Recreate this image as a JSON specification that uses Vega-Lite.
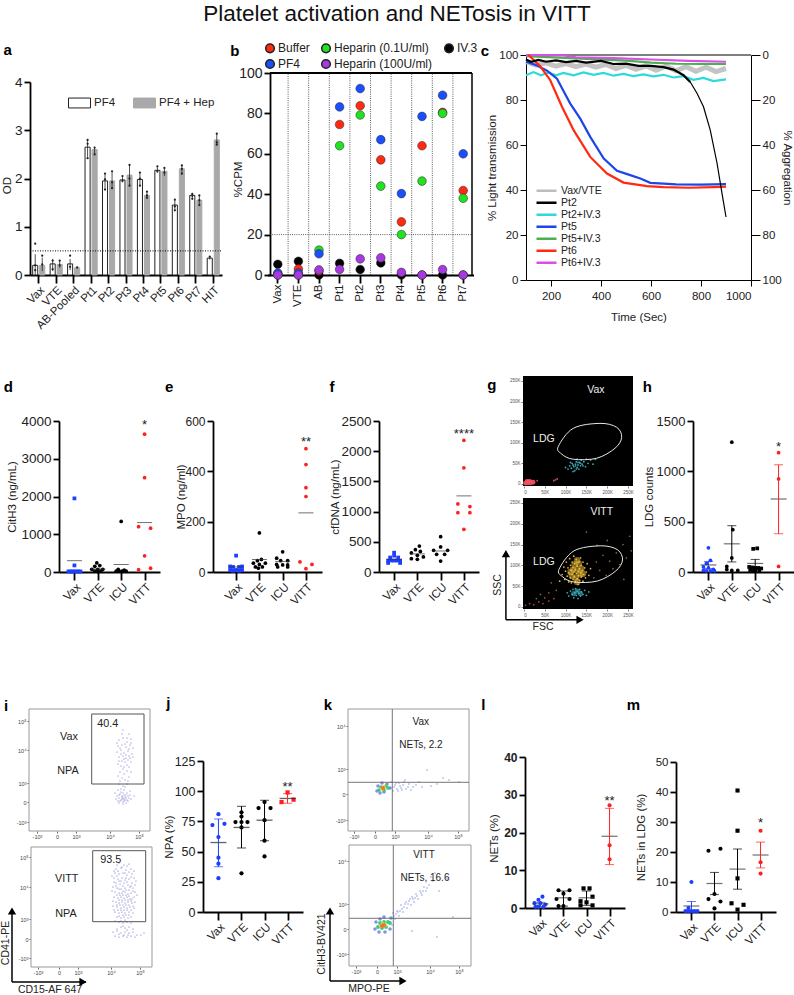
{"$schema":"https://vega.github.io/schema/vega-lite/v6.json","width":794,"height":995,"autosize":"none","padding":0,"background":"white",
"title":{"text":"Platelet activation and NETosis in VITT","anchor":"middle","frame":"group","fontSize":22.5,"fontWeight":"normal","font":"Liberation Sans","color":"#111","dy":29},
"config":{"view":{"stroke":null},"font":"Liberation Sans","numberFormat":"d","axis":{"grid":false,"domainColor":"#000","tickColor":"#000","domainWidth":1.8,"tickWidth":1.8,"labelColor":"#222","titleFontSize":11.5,"titleFontWeight":"normal","titleColor":"#222","titleBaseline":"middle","labelPadding":2,"titlePadding":3},"axisX":{"tickSize":8,"labelFontSize":11.5,"labelPadding":1},"axisY":{"tickSize":6,"labelFontSize":13.5},"legend":{"labelFont":"Liberation Sans","labelColor":"#222"}},
"resolve":{"scale":{"x":"independent","y":"independent","color":"independent","fill":"independent","stroke":"independent","shape":"independent","size":"independent","xOffset":"independent"},"axis":{"x":"independent","y":"independent"},"legend":{"color":"independent","fill":"independent","stroke":"independent","shape":"independent","size":"independent"}},
"layer":[
{"encoding":{"x":{"field":"g","type":"nominal","sort":null,"scale":{"domain":["Vax","VTE","AB-Pooled","Pt1","Pt2","Pt3","Pt4","Pt5","Pt6","Pt7","HIT"],"range":[30,222],"paddingInner":0,"paddingOuter":0},"axis":{"orient":"bottom","offset":-720,"title":null,"labelAngle":-45}},"y":{"field":"v","type":"quantitative","scale":{"domain":[0,4],"range":[275,82]},"axis":{"orient":"left","offset":-30,"title":"OD","titleX":-23,"titleY":185,"values":[0,1,2,3,4]}}},
"layer":[
{"data":{"values":[{"g":"Vax","s":"PF4","v":0.2},{"g":"VTE","s":"PF4","v":0.23},{"g":"AB-Pooled","s":"PF4","v":0.23},{"g":"Pt1","s":"PF4","v":2.65},{"g":"Pt2","s":"PF4","v":1.95},{"g":"Pt3","s":"PF4","v":1.97},{"g":"Pt4","s":"PF4","v":1.98},{"g":"Pt5","s":"PF4","v":2.17},{"g":"Pt6","s":"PF4","v":1.45},{"g":"Pt7","s":"PF4","v":1.65},{"g":"HIT","s":"PF4","v":0.35},{"g":"Vax","s":"PF4 + Hep","v":0.2},{"g":"VTE","s":"PF4 + Hep","v":0.22},{"g":"AB-Pooled","s":"PF4 + Hep","v":0.15},{"g":"Pt1","s":"PF4 + Hep","v":2.6},{"g":"Pt2","s":"PF4 + Hep","v":1.95},{"g":"Pt3","s":"PF4 + Hep","v":2.07},{"g":"Pt4","s":"PF4 + Hep","v":1.65},{"g":"Pt5","s":"PF4 + Hep","v":2.15},{"g":"Pt6","s":"PF4 + Hep","v":2.2},{"g":"Pt7","s":"PF4 + Hep","v":1.55},{"g":"HIT","s":"PF4 + Hep","v":2.8}]},
"mark":{"type":"bar","strokeWidth":1},
"encoding":{"xOffset":{"field":"s","type":"nominal","scale":{"domain":["PF4","PF4 + Hep"],"paddingInner":0.28,"paddingOuter":0.38}},
"fill":{"field":"s","type":"nominal","scale":{"domain":["PF4","PF4 + Hep"],"range":["#ffffff","#a9a9ab"]},"legend":{"title":null,"orient":"none","legendX":68,"legendY":97,"columns":2,"columnPadding":17,"symbolType":"M-1,-0.45H1V0.45H-1Z","symbolSize":484,"labelFontSize":11.5,"labelOffset":3,"symbolStrokeWidth":1,"clipHeight":12}},
"stroke":{"field":"s","type":"nominal","scale":{"domain":["PF4","PF4 + Hep"],"range":["#222222","#a9a9ab"]},"legend":{"title":null,"orient":"none","legendX":68,"legendY":97,"columns":2,"columnPadding":17,"symbolType":"M-1,-0.45H1V0.45H-1Z","symbolSize":484,"labelFontSize":11.5,"labelOffset":3,"symbolStrokeWidth":1,"clipHeight":12}}}},
{"data":{"values":[{"g":"Vax","s":"PF4","v":0,"hi":0.43},{"g":"VTE","s":"PF4","v":0.08,"hi":0.33},{"g":"AB-Pooled","s":"PF4","v":0.1,"hi":0.33},{"g":"Pt1","s":"PF4","v":2.45,"hi":2.8},{"g":"Pt2","s":"PF4","v":1.78,"hi":2.08},{"g":"Pt3","s":"PF4","v":1.92,"hi":2.03},{"g":"Pt4","s":"PF4","v":1.85,"hi":2.1},{"g":"Pt5","s":"PF4","v":2.12,"hi":2.23},{"g":"Pt6","s":"PF4","v":1.33,"hi":1.55},{"g":"Pt7","s":"PF4","v":1.58,"hi":1.7},{"g":"HIT","s":"PF4","v":0.32,"hi":0.38},{"g":"Vax","s":"PF4 + Hep","v":0.08,"hi":0.36},{"g":"VTE","s":"PF4 + Hep","v":0.15,"hi":0.3},{"g":"AB-Pooled","s":"PF4 + Hep","v":0.13,"hi":0.17},{"g":"Pt1","s":"PF4 + Hep","v":2.5,"hi":2.65},{"g":"Pt2","s":"PF4 + Hep","v":1.8,"hi":2.13},{"g":"Pt3","s":"PF4 + Hep","v":1.85,"hi":2.28},{"g":"Pt4","s":"PF4 + Hep","v":1.6,"hi":1.73},{"g":"Pt5","s":"PF4 + Hep","v":2.05,"hi":2.22},{"g":"Pt6","s":"PF4 + Hep","v":2.1,"hi":2.27},{"g":"Pt7","s":"PF4 + Hep","v":1.45,"hi":1.65},{"g":"HIT","s":"PF4 + Hep","v":2.7,"hi":2.93}]},
"mark":{"type":"rule","color":"#222","strokeWidth":0.8},
"encoding":{"xOffset":{"field":"s","type":"nominal","scale":{"domain":["PF4","PF4 + Hep"],"paddingInner":0.28,"paddingOuter":0.38}},"y2":{"field":"hi"}}},
{"data":{"values":[{"g":"Vax","s":"PF4","v":0.65},{"g":"Vax","s":"PF4","v":0.2},{"g":"Vax","s":"PF4","v":0.1},{"g":"Vax","s":"PF4 + Hep","v":0.4},{"g":"Vax","s":"PF4 + Hep","v":0.22},{"g":"VTE","s":"PF4","v":0.3},{"g":"VTE","s":"PF4","v":0.12},{"g":"VTE","s":"PF4 + Hep","v":0.3},{"g":"VTE","s":"PF4 + Hep","v":0.2},{"g":"AB-Pooled","s":"PF4","v":0.4},{"g":"AB-Pooled","s":"PF4","v":0.17},{"g":"AB-Pooled","s":"PF4 + Hep","v":0.16},{"g":"Pt1","s":"PF4","v":2.8},{"g":"Pt1","s":"PF4","v":2.72},{"g":"Pt1","s":"PF4","v":2.42},{"g":"Pt1","s":"PF4 + Hep","v":2.64},{"g":"Pt1","s":"PF4 + Hep","v":2.5},{"g":"Pt2","s":"PF4","v":2.1},{"g":"Pt2","s":"PF4","v":1.98},{"g":"Pt2","s":"PF4","v":1.77},{"g":"Pt2","s":"PF4 + Hep","v":2.15},{"g":"Pt2","s":"PF4 + Hep","v":1.92},{"g":"Pt2","s":"PF4 + Hep","v":1.8},{"g":"Pt3","s":"PF4","v":2.05},{"g":"Pt3","s":"PF4","v":1.95},{"g":"Pt3","s":"PF4 + Hep","v":2.28},{"g":"Pt3","s":"PF4 + Hep","v":2.0},{"g":"Pt3","s":"PF4 + Hep","v":1.85},{"g":"Pt4","s":"PF4","v":2.12},{"g":"Pt4","s":"PF4","v":2.0},{"g":"Pt4","s":"PF4","v":1.85},{"g":"Pt4","s":"PF4 + Hep","v":1.73},{"g":"Pt4","s":"PF4 + Hep","v":1.65},{"g":"Pt4","s":"PF4 + Hep","v":1.6},{"g":"Pt5","s":"PF4","v":2.25},{"g":"Pt5","s":"PF4","v":2.15},{"g":"Pt5","s":"PF4 + Hep","v":2.22},{"g":"Pt5","s":"PF4 + Hep","v":2.12},{"g":"Pt6","s":"PF4","v":1.56},{"g":"Pt6","s":"PF4","v":1.42},{"g":"Pt6","s":"PF4","v":1.34},{"g":"Pt6","s":"PF4 + Hep","v":2.27},{"g":"Pt6","s":"PF4 + Hep","v":2.2},{"g":"Pt6","s":"PF4 + Hep","v":2.1},{"g":"Pt7","s":"PF4","v":1.68},{"g":"Pt7","s":"PF4","v":1.64},{"g":"Pt7","s":"PF4","v":1.58},{"g":"Pt7","s":"PF4 + Hep","v":1.65},{"g":"Pt7","s":"PF4 + Hep","v":1.55},{"g":"Pt7","s":"PF4 + Hep","v":1.45},{"g":"HIT","s":"PF4","v":0.38},{"g":"HIT","s":"PF4 + Hep","v":2.93},{"g":"HIT","s":"PF4 + Hep","v":2.75},{"g":"HIT","s":"PF4 + Hep","v":2.7}]},
"mark":{"type":"point","filled":true,"size":5,"color":"#222","opacity":1},
"encoding":{"xOffset":{"field":"s","type":"nominal","scale":{"domain":["PF4","PF4 + Hep"],"paddingInner":0.28,"paddingOuter":0.38}}}},
{"data":{"values":[{"g":"Vax","v":4.66,"t":"a"}]},"mark":{"type":"text","dx":-31,"fontSize":15,"fontWeight":"bold","color":"#000"},"encoding":{"text":{"field":"t"}}}
]},
{"data":{"values":[{"p":0,"p2":1,"v":0.5}]},"mark":{"type":"rule","color":"#000","strokeDash":[1,1.5],"strokeWidth":1},"encoding":{"x":{"field":"p","type":"quantitative","scale":{"domain":[0,1],"range":[30,222]},"axis":null},"x2":{"field":"p2"},"y":{"field":"v","type":"quantitative","scale":{"domain":[0,4],"range":[275,82]},"axis":null}}},

{"encoding":{"x":{"field":"p","type":"quantitative","scale":{"domain":[0,1],"range":[270,472]},"axis":null},"y":{"field":"v","type":"quantitative","scale":{"domain":[0,100],"range":[275,73]},"axis":null}},
"layer":[
{"data":{"values":[{"p":0,"p2":1,"v":100}]},"mark":{"type":"rule","color":"#000","strokeWidth":1.8},"encoding":{"x2":{"field":"p2"}}},
{"data":{"values":[{"p":1,"v":0,"v2":100}]},"mark":{"type":"rule","color":"#000","strokeWidth":1.5},"encoding":{"y2":{"field":"v2"}}},
{"data":{"values":[{"p":0,"p2":1,"v":20}]},"mark":{"type":"rule","color":"#333","strokeDash":[1,1.2],"strokeWidth":0.8},"encoding":{"x2":{"field":"p2"}}}
]},
{"encoding":{"x":{"field":"g","type":"nominal","scale":{"domain":["Vax","VTE","AB","Pt1","Pt2","Pt3","Pt4","Pt5","Pt6","Pt7"],"range":[267.5,473.5],"paddingInner":0,"paddingOuter":0},"axis":{"orient":"bottom","offset":-720,"title":null,"labelAngle":-90}},"y":{"field":"v","type":"quantitative","scale":{"domain":[0,100],"range":[275,73]},"axis":{"orient":"left","offset":-270,"title":"%CPM","titleX":-32,"titleY":179,"labelFontSize":14,"values":[0,20,40,60,80,100]}}},
"layer":[
{"data":{"values":[{"g":"Vax","v":0,"v2":100},{"g":"VTE","v":0,"v2":100},{"g":"AB","v":0,"v2":100},{"g":"Pt1","v":0,"v2":100},{"g":"Pt2","v":0,"v2":100},{"g":"Pt3","v":0,"v2":100},{"g":"Pt4","v":0,"v2":100},{"g":"Pt5","v":0,"v2":100},{"g":"Pt6","v":0,"v2":100}]},"mark":{"type":"rule","color":"#333","strokeDash":[1,1.2],"strokeWidth":0.8},"encoding":{"x":{"field":"g","type":"nominal","bandPosition":1,"scale":{"domain":["Vax","VTE","AB","Pt1","Pt2","Pt3","Pt4","Pt5","Pt6","Pt7"],"range":[267.5,473.5],"paddingInner":0,"paddingOuter":0},"axis":{"orient":"bottom","offset":-720,"title":null,"labelAngle":-90}},"y2":{"field":"v2"}}},
{"data":{"values":[{"g":"Vax","s":"IV.3","v":5.3},{"g":"VTE","s":"IV.3","v":6.8},{"g":"AB","s":"IV.3","v":0},{"g":"Pt1","s":"IV.3","v":5.8},{"g":"Pt2","s":"IV.3","v":2.7},{"g":"Pt3","s":"IV.3","v":6},{"g":"Pt4","s":"IV.3","v":0},{"g":"Pt5","s":"IV.3","v":0},{"g":"Pt6","s":"IV.3","v":0},{"g":"Pt7","s":"IV.3","v":0},
{"g":"Vax","s":"Buffer","v":0.5},{"g":"VTE","s":"Buffer","v":3},{"g":"AB","s":"Buffer","v":2},{"g":"Pt1","s":"Buffer","v":74.5},{"g":"Pt2","s":"Buffer","v":83.8},{"g":"Pt3","s":"Buffer","v":57},{"g":"Pt4","s":"Buffer","v":26.3},{"g":"Pt5","s":"Buffer","v":64},{"g":"Pt6","s":"Buffer","v":80.5},{"g":"Pt7","s":"Buffer","v":41.8},
{"g":"Vax","s":"Heparin (0.1U/ml)","v":0},{"g":"VTE","s":"Heparin (0.1U/ml)","v":0},{"g":"AB","s":"Heparin (0.1U/ml)","v":12.3},{"g":"Pt1","s":"Heparin (0.1U/ml)","v":64},{"g":"Pt2","s":"Heparin (0.1U/ml)","v":79.2},{"g":"Pt3","s":"Heparin (0.1U/ml)","v":44},{"g":"Pt4","s":"Heparin (0.1U/ml)","v":20},{"g":"Pt5","s":"Heparin (0.1U/ml)","v":46.5},{"g":"Pt6","s":"Heparin (0.1U/ml)","v":80},{"g":"Pt7","s":"Heparin (0.1U/ml)","v":38},
{"g":"Vax","s":"PF4","v":1},{"g":"VTE","s":"PF4","v":1},{"g":"AB","s":"PF4","v":10.5},{"g":"Pt1","s":"PF4","v":83.2},{"g":"Pt2","s":"PF4","v":92.3},{"g":"Pt3","s":"PF4","v":67},{"g":"Pt4","s":"PF4","v":40.3},{"g":"Pt5","s":"PF4","v":78.5},{"g":"Pt6","s":"PF4","v":89},{"g":"Pt7","s":"PF4","v":60},
{"g":"Vax","s":"Heparin (100U/ml)","v":0},{"g":"VTE","s":"Heparin (100U/ml)","v":0},{"g":"AB","s":"Heparin (100U/ml)","v":2.5},{"g":"Pt1","s":"Heparin (100U/ml)","v":2.8},{"g":"Pt2","s":"Heparin (100U/ml)","v":8},{"g":"Pt3","s":"Heparin (100U/ml)","v":8.5},{"g":"Pt4","s":"Heparin (100U/ml)","v":1.3},{"g":"Pt5","s":"Heparin (100U/ml)","v":0},{"g":"Pt6","s":"Heparin (100U/ml)","v":2.7},{"g":"Pt7","s":"Heparin (100U/ml)","v":0}]},
"mark":{"type":"point","filled":true,"size":75,"stroke":"#222","strokeWidth":0.5,"opacity":1},
"encoding":{"color":{"field":"s","type":"nominal","scale":{"domain":["Buffer","PF4","Heparin (0.1U/ml)","Heparin (100U/ml)","IV.3"],"range":["#ff2a12","#1a4fff","#22e022","#a63ae0","#000000"]},"legend":{"title":null,"orient":"none","legendX":264,"legendY":42,"columns":3,"columnPadding":8,"rowPadding":0,"symbolSize":75,"symbolType":"circle","symbolStrokeColor":"#222","labelFontSize":12,"labelOffset":2}}}},
{"data":{"values":[{"g":"Vax","v":111,"t":"b"}]},"mark":{"type":"text","dx":-43,"fontSize":15,"fontWeight":"bold","color":"#000"},"encoding":{"text":{"field":"t"}}}
]},

{"data":{"values":[{"a":0}]},"mark":{"type":"point","opacity":0},"encoding":{"x":{"field":"a","type":"quantitative","scale":{"domain":[0,1000],"range":[526,751]},"axis":null},"y":{"field":"a","type":"quantitative","scale":{"domain":[100,0],"range":[280,55]},"axis":{"orient":"right","offset":-43,"title":"% Aggregation","titleX":35,"values":[0,20,40,60,80,100],"domainWidth":1,"tickWidth":1,"tickSize":9,"labelFontSize":11.5}}}},
{"encoding":{"x":{"field":"t","type":"quantitative","scale":{"domain":[100,1000],"range":[526,751]},"axis":{"orient":"bottom","offset":-715,"title":"Time (Sec)","titleY":37,"values":[200,400,600,800,1000],"domainWidth":1,"tickWidth":1,"tickSize":6,"labelPadding":4}},"y":{"field":"v","type":"quantitative","scale":{"domain":[0,100],"range":[280,55]},"axis":{"orient":"left","offset":-526,"title":"% Light transmission","titleX":-34,"values":[0,20,40,60,80,100],"domainWidth":1,"tickWidth":1,"tickSize":6,"labelFontSize":11.5}}},
"layer":[
{"data":{"values":[{"t":100,"v":100},{"t":1000,"v":100}]},"mark":{"type":"line","color":"#000","strokeWidth":1}},
{"data":{"values":[{"t":100,"v":97},{"t":140,"v":95.5},{"t":180,"v":96.5},{"t":220,"v":95},{"t":260,"v":96.2},{"t":300,"v":94.8},{"t":340,"v":96},{"t":380,"v":94.6},{"t":420,"v":95.8},{"t":460,"v":94},{"t":500,"v":95.4},{"t":540,"v":93.6},{"t":580,"v":95.2},{"t":620,"v":93.2},{"t":660,"v":95},{"t":700,"v":93},{"t":740,"v":94.8},{"t":780,"v":92.8},{"t":820,"v":94.6},{"t":860,"v":92.6},{"t":900,"v":94}]},"mark":{"type":"line","color":"#c4c4c4","strokeWidth":5}},
{"data":{"values":[{"s":"Pt5+IV.3","t":100,"v":99.5},{"s":"Pt5+IV.3","t":300,"v":98.5},{"s":"Pt5+IV.3","t":500,"v":97.5},{"s":"Pt5+IV.3","t":600,"v":96.6},{"s":"Pt5+IV.3","t":700,"v":96.1},{"s":"Pt5+IV.3","t":800,"v":96},{"s":"Pt5+IV.3","t":900,"v":96},
{"s":"Pt2+IV.3","t":100,"v":91},{"s":"Pt2+IV.3","t":130,"v":92.4},{"s":"Pt2+IV.3","t":160,"v":91},{"s":"Pt2+IV.3","t":190,"v":92.2},{"s":"Pt2+IV.3","t":220,"v":91},{"s":"Pt2+IV.3","t":250,"v":92},{"s":"Pt2+IV.3","t":290,"v":91},{"s":"Pt2+IV.3","t":330,"v":92.3},{"s":"Pt2+IV.3","t":370,"v":91.2},{"s":"Pt2+IV.3","t":410,"v":92},{"s":"Pt2+IV.3","t":450,"v":90.8},{"s":"Pt2+IV.3","t":490,"v":91.6},{"s":"Pt2+IV.3","t":530,"v":90.6},{"s":"Pt2+IV.3","t":570,"v":91.4},{"s":"Pt2+IV.3","t":610,"v":90.5},{"s":"Pt2+IV.3","t":650,"v":91.2},{"s":"Pt2+IV.3","t":690,"v":90},{"s":"Pt2+IV.3","t":730,"v":90.6},{"s":"Pt2+IV.3","t":770,"v":89},{"s":"Pt2+IV.3","t":810,"v":89.8},{"s":"Pt2+IV.3","t":850,"v":88.4},{"s":"Pt2+IV.3","t":900,"v":89.2},
{"s":"Pt6+IV.3","t":100,"v":100},{"s":"Pt6+IV.3","t":250,"v":99.8},{"s":"Pt6+IV.3","t":300,"v":99},{"s":"Pt6+IV.3","t":450,"v":98.6},{"s":"Pt6+IV.3","t":600,"v":98},{"s":"Pt6+IV.3","t":750,"v":97.4},{"s":"Pt6+IV.3","t":900,"v":97},
{"s":"Pt5","t":100,"v":97},{"s":"Pt5","t":140,"v":95.5},{"s":"Pt5","t":184,"v":93},{"s":"Pt5","t":224,"v":89.5},{"s":"Pt5","t":250,"v":84},{"s":"Pt5","t":277,"v":78.4},{"s":"Pt5","t":317,"v":71.7},{"s":"Pt5","t":357,"v":63.6},{"s":"Pt5","t":411,"v":54},{"s":"Pt5","t":464,"v":48.5},{"s":"Pt5","t":517,"v":46.6},{"s":"Pt5","t":560,"v":45},{"s":"Pt5","t":597,"v":43.2},{"s":"Pt5","t":650,"v":42.8},{"s":"Pt5","t":700,"v":42.5},{"s":"Pt5","t":800,"v":42.4},{"s":"Pt5","t":900,"v":42.6},
{"s":"Pt6","t":110,"v":100},{"s":"Pt6","t":157,"v":95},{"s":"Pt6","t":197,"v":88.8},{"s":"Pt6","t":244,"v":77},{"s":"Pt6","t":291,"v":66.5},{"s":"Pt6","t":357,"v":54.7},{"s":"Pt6","t":424,"v":47.3},{"s":"Pt6","t":490,"v":43.3},{"s":"Pt6","t":584,"v":41.7},{"s":"Pt6","t":650,"v":41.3},{"s":"Pt6","t":750,"v":41},{"s":"Pt6","t":850,"v":41.3},{"s":"Pt6","t":900,"v":41.5},
{"s":"Pt2","t":100,"v":98},{"s":"Pt2","t":120,"v":97},{"s":"Pt2","t":150,"v":97.8},{"s":"Pt2","t":180,"v":97},{"s":"Pt2","t":220,"v":97.6},{"s":"Pt2","t":260,"v":96.8},{"s":"Pt2","t":300,"v":97.4},{"s":"Pt2","t":340,"v":96.6},{"s":"Pt2","t":400,"v":97.4},{"s":"Pt2","t":450,"v":96},{"s":"Pt2","t":500,"v":96.2},{"s":"Pt2","t":550,"v":95.2},{"s":"Pt2","t":600,"v":95.2},{"s":"Pt2","t":650,"v":94.6},{"s":"Pt2","t":690,"v":93.5},{"s":"Pt2","t":730,"v":91},{"s":"Pt2","t":757,"v":88}]},
"mark":{"type":"line","strokeWidth":2.2},
"encoding":{"color":{"field":"s","type":"nominal","scale":{"domain":["Vax/VTE","Pt2","Pt2+IV.3","Pt5","Pt5+IV.3","Pt6","Pt6+IV.3"],"range":["#bdbdbd","#000000","#2fd9d9","#1d45e8","#4caf50","#ff2a10","#d94fe8"]},"legend":{"title":null,"orient":"none","legendX":535,"legendY":185,"symbolType":"stroke","symbolSize":400,"symbolStrokeWidth":2.5,"labelFontSize":10.5,"labelOffset":3,"clipHeight":11.5,"rowPadding":0}}}},
{"data":{"values":[{"t":757,"v":88},{"t":784,"v":83},{"t":810,"v":77},{"t":837,"v":66.6},{"t":864,"v":52},{"t":884,"v":38.5},{"t":900,"v":28}]},"mark":{"type":"line","color":"#000","strokeWidth":1.2}},
{"data":{"values":[{"t":-64,"v":101.8,"l":"c"}]},"mark":{"type":"text","fontSize":15,"fontWeight":"bold","color":"#000"},"encoding":{"text":{"field":"l"}}}
]},

{"encoding":{"x":{"field":"group","type":"nominal","scale":{"type":"point","domain":["Vax","VTE","ICU","VITT"],"range":[59,160],"padding":0.66},"axis":{"orient":"bottom","offset":-423,"title":null,"labelAngle":-45}},"y":{"field":"v","type":"quantitative","scale":{"domain":[0,4000],"range":[572,421]},"axis":{"orient":"left","offset":-59,"title":"CitH3 (ng/mL)","titleX":-47,"labelFontSize":13.5,"values":[0,1000,2000,3000,4000]}},"color":{"field":"group","type":"nominal","scale":{"domain":["Vax","VTE","ICU","VITT"],"range":["#1f3fff","#000000","#000000","#ff2020"]},"legend":null}},
"layer":[
{"data":{"values":[{"group":"Vax","v":1950,"o":0},{"group":"Vax","v":175,"o":0},{"group":"Vax","v":15,"o":-6},{"group":"Vax","v":15,"o":-4},{"group":"Vax","v":15,"o":-2},{"group":"Vax","v":15,"o":0},{"group":"Vax","v":15,"o":2},{"group":"Vax","v":15,"o":4},{"group":"Vax","v":15,"o":6},{"group":"VTE","v":240,"o":-1},{"group":"VTE","v":170,"o":2},{"group":"VTE","v":150,"o":-3},{"group":"VTE","v":70,"o":-6},{"group":"VTE","v":70,"o":0},{"group":"VTE","v":70,"o":5},{"group":"VTE","v":20,"o":-3},{"group":"VTE","v":20,"o":3},{"group":"VTE","v":10,"o":0},{"group":"ICU","v":1340,"o":0},{"group":"ICU","v":70,"o":-3},{"group":"ICU","v":50,"o":3},{"group":"ICU","v":20,"o":-5},{"group":"ICU","v":20,"o":-2},{"group":"ICU","v":20,"o":1},{"group":"ICU","v":20,"o":5},{"group":"VITT","v":3650,"o":0},{"group":"VITT","v":2500,"o":0},{"group":"VITT","v":1200,"o":-6},{"group":"VITT","v":1160,"o":6},{"group":"VITT","v":430,"o":0},{"group":"VITT","v":60,"o":-6},{"group":"VITT","v":100,"o":6}]},"mark":{"type":"point","filled":true,"size":14,"opacity":1},"encoding":{"xOffset":{"field":"o","type":"quantitative","scale":{"domain":[-10,10],"range":[-10,10]}},"shape":{"field":"group","type":"nominal","scale":{"domain":["Vax","VTE","ICU","VITT"],"range":["square","circle","circle","circle"]},"legend":null}}},
{"data":{"values":[{"group":"Vax","v":300},{"group":"VTE","v":80},{"group":"ICU","v":200},{"group":"VITT","v":1310}]},"mark":{"type":"tick","orient":"horizontal","size":15,"thickness":1},"encoding":{"color":{"value":"#333"}}},
{"data":{"values":[{"group":"VITT","v":3950,"l":"*"}]},"mark":{"type":"text","fontSize":13,"baseline":"middle","dy":2},"encoding":{"text":{"field":"l"},"color":{"value":"#222"}}},
{"data":{"values":[{"group":"Vax","v":4900,"l":"d"}]},"mark":{"type":"text","dx":-66,"fontSize":15,"fontWeight":"bold"},"encoding":{"text":{"field":"l"},"color":{"value":"#000"}}}
]},

{"encoding":{"x":{"field":"group","type":"nominal","scale":{"type":"point","domain":["Vax","VTE","ICU","VITT"],"range":[213,322],"padding":0.84,"align":0.59},"axis":{"orient":"bottom","offset":-423,"title":null,"labelAngle":-45}},"y":{"field":"v","type":"quantitative","scale":{"domain":[0,600],"range":[572,421]},"axis":{"orient":"left","offset":-213,"title":"MPO (ng/ml)","titleX":-32,"labelFontSize":12,"values":[0,200,400,600]}},"color":{"field":"group","type":"nominal","scale":{"domain":["Vax","VTE","ICU","VITT"],"range":["#1f3fff","#000000","#000000","#ff2020"]},"legend":null}},
"layer":[
{"data":{"values":[{"group":"Vax","v":65,"o":0},{"group":"Vax","v":22,"o":-6},{"group":"Vax","v":20,"o":-3},{"group":"Vax","v":20,"o":3},{"group":"Vax","v":22,"o":6},{"group":"Vax","v":8,"o":-6},{"group":"Vax","v":8,"o":0},{"group":"Vax","v":8,"o":6},{"group":"Vax","v":5,"o":-3},{"group":"Vax","v":5,"o":3},{"group":"VTE","v":155,"o":0},{"group":"VTE","v":50,"o":2},{"group":"VTE","v":45,"o":-2},{"group":"VTE","v":35,"o":-6},{"group":"VTE","v":30,"o":0},{"group":"VTE","v":35,"o":6},{"group":"VTE","v":20,"o":-4},{"group":"VTE","v":20,"o":3},{"group":"VTE","v":15,"o":-1},{"group":"ICU","v":80,"o":0},{"group":"ICU","v":55,"o":-6},{"group":"ICU","v":45,"o":-2},{"group":"ICU","v":45,"o":5},{"group":"ICU","v":30,"o":-6},{"group":"ICU","v":28,"o":0},{"group":"ICU","v":28,"o":5},{"group":"ICU","v":20,"o":-5},{"group":"ICU","v":20,"o":5},{"group":"VITT","v":490,"o":0},{"group":"VITT","v":427,"o":0},{"group":"VITT","v":335,"o":0},{"group":"VITT","v":300,"o":0},{"group":"VITT","v":40,"o":-6},{"group":"VITT","v":30,"o":6},{"group":"VITT","v":13,"o":0}]},"mark":{"type":"point","filled":true,"size":14,"opacity":1},"encoding":{"xOffset":{"field":"o","type":"quantitative","scale":{"domain":[-10,10],"range":[-10,10]}},"shape":{"field":"group","type":"nominal","scale":{"domain":["Vax","VTE","ICU","VITT"],"range":["square","circle","circle","circle"]},"legend":null}}},
{"data":{"values":[{"group":"Vax","v":20},{"group":"VTE","v":50},{"group":"ICU","v":42},{"group":"VITT","v":235}]},"mark":{"type":"tick","orient":"horizontal","size":15,"thickness":1},"encoding":{"color":{"value":"#333"}}},
{"data":{"values":[{"group":"VITT","v":525,"l":"**"}]},"mark":{"type":"text","fontSize":13,"baseline":"middle","dy":2},"encoding":{"text":{"field":"l"},"color":{"value":"#222"}}},
{"data":{"values":[{"group":"Vax","v":735,"l":"e"}]},"mark":{"type":"text","dx":-67,"fontSize":15,"fontWeight":"bold"},"encoding":{"text":{"field":"l"},"color":{"value":"#000"}}}
]},

{"encoding":{"x":{"field":"group","type":"nominal","scale":{"type":"point","domain":["Vax","VTE","ICU","VITT"],"range":[379,479],"padding":0.65},"axis":{"orient":"bottom","offset":-423,"title":null,"labelAngle":-45}},"y":{"field":"v","type":"quantitative","scale":{"domain":[0,2500],"range":[572,421]},"axis":{"orient":"left","offset":-379,"title":"cfDNA (ng/mL)","titleX":-44,"labelFontSize":13.5,"values":[0,500,1000,1500,2000,2500]}},"color":{"field":"group","type":"nominal","scale":{"domain":["Vax","VTE","ICU","VITT"],"range":["#1f3fff","#000000","#000000","#ff2020"]},"legend":null}},
"layer":[
{"data":{"values":[{"group":"Vax","v":320,"o":0},{"group":"Vax","v":270,"o":0},{"group":"Vax","v":240,"o":-4},{"group":"Vax","v":240,"o":4},{"group":"Vax","v":190,"o":-6},{"group":"Vax","v":190,"o":-3},{"group":"Vax","v":190,"o":0},{"group":"Vax","v":190,"o":3},{"group":"Vax","v":190,"o":6},{"group":"Vax","v":150,"o":-6},{"group":"Vax","v":150,"o":6},{"group":"VTE","v":430,"o":2},{"group":"VTE","v":370,"o":-2},{"group":"VTE","v":340,"o":3},{"group":"VTE","v":315,"o":-6},{"group":"VTE","v":276,"o":0},{"group":"VTE","v":250,"o":6},{"group":"VTE","v":220,"o":-6},{"group":"VTE","v":210,"o":0},{"group":"ICU","v":585,"o":0},{"group":"ICU","v":415,"o":0},{"group":"ICU","v":360,"o":-7},{"group":"ICU","v":360,"o":7},{"group":"ICU","v":293,"o":-4},{"group":"ICU","v":293,"o":4},{"group":"ICU","v":182,"o":0},{"group":"VITT","v":2180,"o":0},{"group":"VITT","v":1724,"o":0},{"group":"VITT","v":1127,"o":-6},{"group":"VITT","v":1083,"o":6},{"group":"VITT","v":983,"o":-6},{"group":"VITT","v":983,"o":6},{"group":"VITT","v":707,"o":0}]},"mark":{"type":"point","filled":true,"size":14,"opacity":1},"encoding":{"xOffset":{"field":"o","type":"quantitative","scale":{"domain":[-10,10],"range":[-10,10]}},"shape":{"field":"group","type":"nominal","scale":{"domain":["Vax","VTE","ICU","VITT"],"range":["square","circle","circle","circle"]},"legend":null}}},
{"data":{"values":[{"group":"Vax","v":205},{"group":"VTE","v":300},{"group":"ICU","v":348},{"group":"VITT","v":1260}]},"mark":{"type":"tick","orient":"horizontal","size":15,"thickness":1},"encoding":{"color":{"value":"#333"}}},
{"data":{"values":[{"group":"VITT","v":2310,"l":"****"}]},"mark":{"type":"text","fontSize":13,"baseline":"middle","dy":2},"encoding":{"text":{"field":"l"},"color":{"value":"#222"}}},
{"data":{"values":[{"group":"Vax","v":3063,"l":"f"}]},"mark":{"type":"text","dx":-62,"fontSize":15,"fontWeight":"bold"},"encoding":{"text":{"field":"l"},"color":{"value":"#000"}}}
]},

{"encoding":{"x":{"field":"group","type":"nominal","scale":{"type":"point","domain":["Vax","VTE","ICU","VITT"],"range":[693,794],"padding":0.66},"axis":{"orient":"bottom","offset":-423,"title":null,"labelAngle":-45}},"y":{"field":"v","type":"quantitative","scale":{"domain":[0,1500],"range":[572,421]},"axis":{"orient":"left","offset":-693,"title":"LDG counts","titleX":-44,"labelFontSize":13,"values":[0,500,1000,1500]}},"color":{"field":"group","type":"nominal","scale":{"domain":["Vax","VTE","ICU","VITT"],"range":["#1f3fff","#000000","#000000","#ff2020"]},"legend":null}},
"layer":[
{"data":{"values":[{"group":"Vax","v":240,"o":0},{"group":"Vax","v":115,"o":2},{"group":"Vax","v":85,"o":-2},{"group":"Vax","v":50,"o":-5},{"group":"Vax","v":40,"o":0},{"group":"Vax","v":25,"o":5},{"group":"Vax","v":15,"o":-5},{"group":"Vax","v":10,"o":-2},{"group":"Vax","v":10,"o":2},{"group":"Vax","v":10,"o":6},{"group":"VTE","v":1290,"o":0},{"group":"VTE","v":420,"o":1},{"group":"VTE","v":140,"o":0},{"group":"VTE","v":55,"o":-5},{"group":"VTE","v":25,"o":-5},{"group":"VTE","v":15,"o":6},{"group":"VTE","v":15,"o":0},{"group":"ICU","v":230,"o":-2},{"group":"ICU","v":235,"o":2},{"group":"ICU","v":50,"o":-6},{"group":"ICU","v":45,"o":-3},{"group":"ICU","v":40,"o":0},{"group":"ICU","v":40,"o":3},{"group":"ICU","v":35,"o":6},{"group":"ICU","v":20,"o":-5},{"group":"ICU","v":15,"o":0},{"group":"ICU","v":15,"o":4},{"group":"ICU","v":10,"o":-2},{"group":"VITT","v":1185,"o":0},{"group":"VITT","v":925,"o":0},{"group":"VITT","v":55,"o":0}]},"mark":{"type":"point","filled":true,"size":14,"opacity":1},"encoding":{"xOffset":{"field":"o","type":"quantitative","scale":{"domain":[-10,10],"range":[-10,10]}},"shape":{"field":"group","type":"nominal","scale":{"domain":["Vax","VTE","ICU","VITT"],"range":["circle","circle","square","circle"]},"legend":null}}},
{"data":{"values":[{"group":"Vax","v":70},{"group":"VTE","v":280},{"group":"ICU","v":85},{"group":"VITT","v":725}]},"mark":{"type":"tick","orient":"horizontal","size":16,"thickness":1.2},"encoding":{"color":{"value":"#333"}}},
{"data":{"values":[{"group":"Vax","v":35,"hi":105},{"group":"VTE","v":100,"hi":460},{"group":"ICU","v":40,"hi":125},{"group":"VITT","v":380,"hi":1065}]},"mark":{"type":"errorbar","ticks":{"size":9}},"encoding":{"y2":{"field":"hi"}}},
{"data":{"values":[{"group":"VITT","v":1265,"l":"*"}]},"mark":{"type":"text","fontSize":13,"baseline":"middle","dy":2},"encoding":{"text":{"field":"l"},"color":{"value":"#222"}}},
{"data":{"values":[{"group":"Vax","v":1838,"l":"h"}]},"mark":{"type":"text","dx":-61,"fontSize":15,"fontWeight":"bold"},"encoding":{"text":{"field":"l"},"color":{"value":"#000"}}}
]},

{"encoding":{"x":{"field":"u","type":"quantitative","scale":{"domain":[-2,262],"range":[523,633]},"axis":{"orient":"bottom","offset":-509,"title":null,"values":[0,50,100,150,200,250],"labelExpr":"datum.value==0?'0':datum.value+'K'","labelFontSize":4.5,"labelColor":"#555","tickSize":2,"tickWidth":0.5,"domain":false,"labelPadding":1}},"y":{"field":"w","type":"quantitative","scale":{"domain":[-5,262],"range":[486,376]},"axis":{"orient":"left","offset":-523,"title":null,"values":[0,50,100,150,200,250],"labelExpr":"datum.value==0?'0':datum.value+'K'","labelFontSize":4.5,"labelColor":"#555","tickSize":2,"tickWidth":0.5,"domain":false,"labelPadding":1}}},
"layer":[
{"data":{"values":[{"u":-2,"u2":262,"w":-5,"w2":262}]},"mark":{"type":"rect","color":"#000"},"encoding":{"x2":{"field":"u2"},"y2":{"field":"w2"}}},
{"data":{"values":[{"u":4,"w":2},{"u":10,"w":3},{"u":16,"w":3},{"u":22,"w":4},{"u":8,"w":6},{"u":14,"w":6}]},"mark":{"type":"point","filled":true,"size":24,"color":"#f05060","opacity":0.95}},
{"data":{"values":[{"u":32,"w":8,"c":"r"},{"u":76,"w":10,"c":"r"},{"u":80,"w":12,"c":"r"},{"u":72,"w":8,"c":"r"},{"u":100,"w":40,"c":"c"},{"u":106,"w":36,"c":"c"},{"u":110,"w":44,"c":"c"},{"u":114,"w":38,"c":"c"},{"u":116,"w":50,"c":"c"},{"u":120,"w":42,"c":"c"},{"u":122,"w":32,"c":"c"},{"u":124,"w":48,"c":"c"},{"u":126,"w":54,"c":"c"},{"u":128,"w":40,"c":"c"},{"u":130,"w":46,"c":"c"},{"u":132,"w":36,"c":"c"},{"u":134,"w":52,"c":"c"},{"u":136,"w":44,"c":"c"},{"u":138,"w":58,"c":"c"},{"u":140,"w":48,"c":"c"},{"u":144,"w":54,"c":"c"},{"u":148,"w":42,"c":"c"},{"u":150,"w":60,"c":"c"},{"u":154,"w":50,"c":"c"},{"u":160,"w":58,"c":"c"},{"u":166,"w":48,"c":"c"},{"u":172,"w":60,"c":"c"},{"u":118,"w":30,"c":"c"},{"u":128,"w":60,"c":"c"},{"u":112,"w":52,"c":"c"},{"u":124,"w":44,"c":"c"},{"u":130,"w":52,"c":"c"},{"u":118,"w":46,"c":"c"},{"u":136,"w":50,"c":"c"},{"u":126,"w":36,"c":"c"},{"u":142,"w":44,"c":"c"}]},"mark":{"type":"point","filled":true,"size":3.5,"opacity":0.9},"encoding":{"color":{"field":"c","type":"nominal","scale":{"domain":["r","c"],"range":["#f05060","#3fb4c4"]},"legend":null}}},
{"data":{"values":[{"u":82.5,"w":90.6,"o":1},{"u":118.6,"w":135,"o":2},{"u":182.7,"w":147,"o":3},{"u":222.8,"w":137.5,"o":4},{"u":234.8,"w":113,"o":5},{"u":218.8,"w":86.6,"o":6},{"u":174.7,"w":62.3,"o":7},{"u":118.6,"w":59.9,"o":8},{"u":90.5,"w":72.8,"o":9}]},"mark":{"type":"line","color":"#e8e8e8","strokeWidth":1,"interpolate":"cardinal-closed"},"encoding":{"order":{"field":"o"}}},
{"data":{"values":[{"u":48,"w":109,"l":"LDG"},{"u":173,"w":228,"l":"Vax"}]},"mark":{"type":"text","fontSize":10.5,"color":"#eee"},"encoding":{"text":{"field":"l"}}},
{"data":{"values":[{"u":-77,"w":240,"l":"g"}]},"mark":{"type":"text","fontSize":15,"fontWeight":"bold","color":"#000"},"encoding":{"text":{"field":"l"}}}
]},

{"encoding":{"x":{"field":"u","type":"quantitative","scale":{"domain":[-2,262],"range":[523,633]},"axis":{"orient":"bottom","offset":-386,"title":null,"values":[0,50,100,150,200,250],"labelExpr":"datum.value==0?'0':datum.value+'K'","labelFontSize":4.5,"labelColor":"#555","tickSize":2,"tickWidth":0.5,"domain":false,"labelPadding":1}},"y":{"field":"w","type":"quantitative","scale":{"domain":[-5,262],"range":[609,498]},"axis":{"orient":"left","offset":-523,"title":null,"values":[0,50,100,150,200,250],"labelExpr":"datum.value==0?'0':datum.value+'K'","labelFontSize":4.5,"labelColor":"#555","tickSize":2,"tickWidth":0.5,"domain":false,"labelPadding":1}}},
"layer":[
{"data":{"values":[{"u":-2,"u2":262,"w":-5,"w2":262}]},"mark":{"type":"rect","color":"#000"},"encoding":{"x2":{"field":"u2"},"y2":{"field":"w2"}}},
{"data":{"values":[{"u":115,"w":75},{"u":125,"w":70},{"u":135,"w":78},{"u":118,"w":90},{"u":128,"w":88},{"u":138,"w":92},{"u":122,"w":102},{"u":132,"w":104},{"u":128,"w":60},{"u":112,"w":84},{"u":142,"w":80},{"u":128,"w":112}]},"mark":{"type":"point","filled":true,"size":42,"color":"#e8b838","opacity":0.55}},
{"data":{"values":[{"u":120,"w":32},{"u":128,"w":38},{"u":136,"w":32}]},"mark":{"type":"point","filled":true,"size":26,"color":"#3fb4c4","opacity":0.6}},
{"data":{"values":[{"u":4,"w":4,"c":"r"},{"u":14,"w":8,"c":"r"},{"u":24,"w":5,"c":"r"},{"u":36,"w":12,"c":"r"},{"u":46,"w":8,"c":"r"},{"u":60,"w":14,"c":"r"},{"u":50,"w":22,"c":"r"},{"u":72,"w":20,"c":"r"},{"u":30,"w":20,"c":"o"},{"u":60,"w":34,"c":"o"},{"u":78,"w":40,"c":"o"},{"u":66,"w":58,"c":"o"},{"u":40,"w":30,"c":"o"},{"u":86,"w":62,"c":"y"},{"u":92,"w":78,"c":"y"},{"u":96,"w":96,"c":"y"},{"u":98,"w":66,"c":"y"},{"u":100,"w":86,"c":"y"},{"u":102,"w":108,"c":"y"},{"u":104,"w":74,"c":"y"},{"u":106,"w":94,"c":"y"},{"u":108,"w":60,"c":"y"},{"u":108,"w":82,"c":"y"},{"u":110,"w":116,"c":"y"},{"u":112,"w":70,"c":"y"},{"u":112,"w":100,"c":"y"},{"u":114,"w":88,"c":"y"},{"u":114,"w":58,"c":"y"},{"u":116,"w":78,"c":"y"},{"u":116,"w":108,"c":"y"},{"u":118,"w":66,"c":"y"},{"u":118,"w":94,"c":"y"},{"u":120,"w":84,"c":"y"},{"u":120,"w":122,"c":"y"},{"u":122,"w":72,"c":"y"},{"u":122,"w":104,"c":"y"},{"u":124,"w":60,"c":"y"},{"u":124,"w":90,"c":"y"},{"u":126,"w":80,"c":"y"},{"u":126,"w":114,"c":"y"},{"u":128,"w":68,"c":"y"},{"u":128,"w":98,"c":"y"},{"u":130,"w":86,"c":"y"},{"u":130,"w":54,"c":"y"},{"u":132,"w":76,"c":"y"},{"u":132,"w":108,"c":"y"},{"u":134,"w":92,"c":"y"},{"u":134,"w":64,"c":"y"},{"u":136,"w":82,"c":"y"},{"u":136,"w":118,"c":"y"},{"u":138,"w":72,"c":"y"},{"u":138,"w":100,"c":"y"},{"u":140,"w":88,"c":"y"},{"u":142,"w":62,"c":"y"},{"u":142,"w":108,"c":"y"},{"u":144,"w":78,"c":"y"},{"u":146,"w":94,"c":"y"},{"u":148,"w":70,"c":"y"},{"u":150,"w":84,"c":"y"},{"u":152,"w":104,"c":"y"},{"u":156,"w":76,"c":"y"},{"u":160,"w":92,"c":"y"},{"u":168,"w":70,"c":"o"},{"u":174,"w":108,"c":"o"},{"u":182,"w":88,"c":"o"},{"u":190,"w":124,"c":"o"},{"u":198,"w":76,"c":"o"},{"u":206,"w":110,"c":"o"},{"u":214,"w":92,"c":"o"},{"u":222,"w":130,"c":"o"},{"u":230,"w":102,"c":"o"},{"u":238,"w":150,"c":"o"},{"u":246,"w":118,"c":"o"},{"u":254,"w":170,"c":"o"},{"u":258,"w":135,"c":"o"},{"u":176,"w":148,"c":"o"},{"u":200,"w":160,"c":"o"},{"u":240,"w":66,"c":"o"},{"u":150,"w":180,"c":"o"},{"u":104,"w":34,"c":"c"},{"u":108,"w":26,"c":"c"},{"u":112,"w":38,"c":"c"},{"u":116,"w":30,"c":"c"},{"u":118,"w":42,"c":"c"},{"u":120,"w":22,"c":"c"},{"u":122,"w":34,"c":"c"},{"u":124,"w":44,"c":"c"},{"u":126,"w":28,"c":"c"},{"u":128,"w":38,"c":"c"},{"u":130,"w":20,"c":"c"},{"u":132,"w":32,"c":"c"},{"u":134,"w":42,"c":"c"},{"u":136,"w":26,"c":"c"},{"u":138,"w":36,"c":"c"},{"u":142,"w":30,"c":"c"},{"u":146,"w":40,"c":"c"},{"u":150,"w":28,"c":"c"},{"u":156,"w":36,"c":"c"}]},"mark":{"type":"point","filled":true,"size":3,"opacity":0.95},"encoding":{"color":{"field":"c","type":"nominal","scale":{"domain":["r","o","y","c"],"range":["#c04848","#8a6a2a","#f0c040","#3fb4c4"]},"legend":null}}},
{"data":{"values":[{"u":84.5,"w":90.6,"o":1},{"u":120.6,"w":135,"o":2},{"u":184.7,"w":147,"o":3},{"u":224.8,"w":137.5,"o":4},{"u":236.8,"w":113,"o":5},{"u":220.8,"w":86.6,"o":6},{"u":176.7,"w":62.3,"o":7},{"u":120.6,"w":59.9,"o":8},{"u":92.5,"w":72.8,"o":9}]},"mark":{"type":"line","color":"#e8e8e8","strokeWidth":1,"interpolate":"cardinal-closed"},"encoding":{"order":{"field":"o"}}},
{"data":{"values":[{"u":48,"w":109,"l":"LDG"},{"u":187,"w":229,"l":"VITT"}]},"mark":{"type":"text","fontSize":10.5,"color":"#eee"},"encoding":{"text":{"field":"l"}}},
{"data":{"values":[{"u":-43,"w":-31},{"u":-43,"w":130}]},"mark":{"type":"line","color":"#000","strokeWidth":1.5}},
{"data":{"values":[{"u":-43,"w":-31},{"u":138,"w":-31}]},"mark":{"type":"line","color":"#000","strokeWidth":1.5}},
{"data":{"values":[{"u":-43,"w":128}]},"mark":{"type":"point","shape":"triangle-up","filled":true,"color":"#000","size":70,"opacity":1}},
{"data":{"values":[{"u":135,"w":-31}]},"mark":{"type":"point","shape":"triangle-right","filled":true,"color":"#000","size":70,"opacity":1}},
{"data":{"values":[{"u":-62,"w":53,"l":"SSC"}]},"mark":{"type":"text","fontSize":10.5,"angle":270,"color":"#222"},"encoding":{"text":{"field":"l"}}},
{"data":{"values":[{"u":46,"w":-48,"l":"FSC"}]},"mark":{"type":"text","fontSize":10.5,"color":"#222"},"encoding":{"text":{"field":"l"}}}
]},

{"encoding":{"x":{"field":"u","type":"quantitative","scale":{"domain":[-28,93],"range":[29,150]},"axis":{"orient":"bottom","offset":-164,"title":null,"values":[-20,0,19,53,82],"labelExpr":"datum.value<0?'-10³':datum.value==0?'0':datum.value<30?'10³':datum.value<60?'10⁴':'10⁵'","labelFontSize":5.5,"labelColor":"#444","tickSize":2,"tickWidth":0.6,"domain":false,"labelPadding":1}},"y":{"field":"w","type":"quantitative","scale":{"domain":[-29,93],"range":[831,709]},"axis":{"orient":"left","offset":-29,"title":null,"values":[-20,0,19,52,81],"labelExpr":"datum.value<0?'-10³':datum.value==0?'0':datum.value<30?'10³':datum.value<60?'10⁴':'10⁵'","labelFontSize":5.5,"labelColor":"#444","tickSize":2,"tickWidth":0.6,"domain":false,"labelPadding":1}}},
"layer":[
{"data":{"values":[{"u":-28,"u2":93,"w":-29,"w2":93}]},"mark":{"type":"rect","fill":"#fff","stroke":"#999","strokeWidth":1},"encoding":{"x2":{"field":"u2"},"y2":{"field":"w2"}}},
{"data":{"values":[{"u":62,"w":62},{"u":66,"w":64},{"u":70,"w":60},{"u":74,"w":63},{"u":61,"w":56},{"u":65,"w":57},{"u":69,"w":55},{"u":73,"w":57},{"u":76,"w":54},{"u":60,"w":50},{"u":64,"w":52},{"u":67,"w":49},{"u":71,"w":51},{"u":75,"w":48},{"u":62,"w":45},{"u":66,"w":46},{"u":69,"w":44},{"u":72,"w":46},{"u":65,"w":41},{"u":68,"w":40},{"u":71,"w":42},{"u":74,"w":40},{"u":61,"w":38},{"u":64,"w":36},{"u":67,"w":35},{"u":70,"w":37},{"u":63,"w":30},{"u":67,"w":28},{"u":70,"w":31},{"u":65,"w":24},{"u":68,"w":22},{"u":72,"w":25},{"u":62,"w":18},{"u":66,"w":16},{"u":70,"w":18},{"u":61,"w":12},{"u":64,"w":10},{"u":67,"w":12},{"u":70,"w":9},{"u":73,"w":11},{"u":60,"w":6},{"u":62,"w":4},{"u":65,"w":5},{"u":67,"w":7},{"u":69,"w":4},{"u":71,"w":6},{"u":74,"w":3},{"u":61,"w":1},{"u":64,"w":2},{"u":66,"w":0},{"u":68,"w":2},{"u":71,"w":1},{"u":63,"w":8},{"u":66,"w":9},{"u":69,"w":7},{"u":65,"w":3},{"u":67,"w":3},{"u":59,"w":3},{"u":62,"w":7},{"u":63,"w":1},{"u":65,"w":6},{"u":66,"w":4},{"u":67,"w":1},{"u":68,"w":5},{"u":70,"w":2},{"u":72,"w":4},{"u":73,"w":7},{"u":62,"w":-1},{"u":66,"w":-2},{"u":69,"w":-1},{"u":64,"w":13},{"u":68,"w":15},{"u":63,"w":21},{"u":71,"w":21},{"u":66,"w":33},{"u":72,"w":35},{"u":62,"w":41},{"u":67,"w":43},{"u":73,"w":44},{"u":64,"w":48},{"u":69,"w":47},{"u":72,"w":53},{"u":63,"w":54},{"u":68,"w":58},{"u":74,"w":59},{"u":70,"w":64},{"u":65,"w":68},{"u":60,"w":59},{"u":76,"w":45},{"u":61,"w":26},{"u":74,"w":30},{"u":58,"w":9},{"u":77,"w":6},{"u":66,"w":72},{"u":72,"w":68}]},"mark":{"type":"point","filled":true,"size":1.4,"color":"#3a3ab8","opacity":0.8}},
{"data":{"values":[{"u":34.7,"u2":87,"w":18,"w2":88}]},"mark":{"type":"rect","fill":null,"stroke":"#555","strokeWidth":1},"encoding":{"x2":{"field":"u2"},"y2":{"field":"w2"}}},
{"data":{"values":[{"u":50.7,"w":78,"l":"40.4"},{"u":12,"w":65,"l":"Vax"},{"u":11,"w":31,"l":"NPA"}]},"mark":{"type":"text","fontSize":10.8,"color":"#222"},"encoding":{"text":{"field":"l"}}},
{"data":{"values":[{"u":-51,"w":96,"l":"i"}]},"mark":{"type":"text","fontSize":15,"fontWeight":"bold","color":"#000"},"encoding":{"text":{"field":"l"}}}
]},

{"encoding":{"x":{"field":"u","type":"quantitative","scale":{"domain":[-28,93],"range":[31,152]},"axis":{"orient":"bottom","offset":-28,"title":null,"values":[-21,0,19,52,81],"labelExpr":"datum.value<0?'-10³':datum.value==0?'0':datum.value<30?'10³':datum.value<60?'10⁴':'10⁵'","labelFontSize":5.5,"labelColor":"#444","tickSize":2,"tickWidth":0.6,"domain":false,"labelPadding":1}},"y":{"field":"w","type":"quantitative","scale":{"domain":[-28,92],"range":[967,847]},"axis":{"orient":"left","offset":-31,"title":null,"values":[-19,0,20,52,82],"labelExpr":"datum.value<0?'-10³':datum.value==0?'0':datum.value<30?'10³':datum.value<60?'10⁴':'10⁵'","labelFontSize":5.5,"labelColor":"#444","tickSize":2,"tickWidth":0.6,"domain":false,"labelPadding":1}}},
"layer":[
{"data":{"values":[{"u":-28,"u2":93,"w":-28,"w2":92}]},"mark":{"type":"rect","fill":"#fff","stroke":"#999","strokeWidth":1},"encoding":{"x2":{"field":"u2"},"y2":{"field":"w2"}}},
{"data":{"values":[{"u":60,"w":76},{"u":65,"w":74},{"u":70,"w":75},{"u":57,"w":70},{"u":62,"w":71},{"u":67,"w":69},{"u":72,"w":70},{"u":56,"w":66},{"u":60,"w":65},{"u":64,"w":66},{"u":68,"w":64},{"u":73,"w":65},{"u":55,"w":61},{"u":59,"w":60},{"u":63,"w":61},{"u":66,"w":59},{"u":70,"w":60},{"u":75,"w":61},{"u":57,"w":56},{"u":61,"w":55},{"u":65,"w":56},{"u":69,"w":54},{"u":73,"w":56},{"u":54,"w":52},{"u":58,"w":51},{"u":62,"w":50},{"u":66,"w":51},{"u":70,"w":49},{"u":74,"w":51},{"u":56,"w":47},{"u":60,"w":46},{"u":63,"w":46},{"u":66,"w":47},{"u":69,"w":45},{"u":72,"w":46},{"u":76,"w":47},{"u":55,"w":42},{"u":59,"w":41},{"u":62,"w":42},{"u":65,"w":41},{"u":68,"w":42},{"u":71,"w":40},{"u":75,"w":42},{"u":57,"w":37},{"u":60,"w":36},{"u":63,"w":37},{"u":66,"w":36},{"u":69,"w":37},{"u":73,"w":36},{"u":54,"w":33},{"u":58,"w":32},{"u":62,"w":31},{"u":65,"w":32},{"u":68,"w":31},{"u":71,"w":32},{"u":75,"w":31},{"u":56,"w":27},{"u":60,"w":26},{"u":63,"w":27},{"u":66,"w":26},{"u":70,"w":27},{"u":74,"w":26},{"u":58,"w":22},{"u":62,"w":21},{"u":65,"w":22},{"u":69,"w":21},{"u":72,"w":22},{"u":60,"w":17},{"u":64,"w":16},{"u":68,"w":17},{"u":62,"w":12},{"u":66,"w":11},{"u":70,"w":12},{"u":54,"w":7},{"u":58,"w":8},{"u":62,"w":6},{"u":66,"w":7},{"u":70,"w":6},{"u":74,"w":7},{"u":56,"w":3},{"u":60,"w":2},{"u":64,"w":3},{"u":68,"w":2},{"u":72,"w":3},{"u":78,"w":4},{"u":58,"w":74},{"u":63,"w":72},{"u":68,"w":73},{"u":55,"w":68},{"u":59,"w":68},{"u":66,"w":66},{"u":70,"w":67},{"u":75,"w":68},{"u":53,"w":63},{"u":58,"w":63},{"u":62,"w":58},{"u":67,"w":61},{"u":72,"w":62},{"u":77,"w":58},{"u":55,"w":57},{"u":60,"w":58},{"u":64,"w":53},{"u":68,"w":57},{"u":72,"w":53},{"u":76,"w":54},{"u":53,"w":48},{"u":57,"w":53},{"u":60,"w":50},{"u":64,"w":48},{"u":67,"w":49},{"u":71,"w":52},{"u":74,"w":48},{"u":78,"w":44},{"u":58,"w":44},{"u":61,"w":44},{"u":64,"w":44},{"u":67,"w":44},{"u":70,"w":43},{"u":73,"w":40},{"u":54,"w":38},{"u":60,"w":39},{"u":63,"w":39},{"u":66,"w":39},{"u":69,"w":39},{"u":72,"w":38},{"u":76,"w":37},{"u":58,"w":34},{"u":61,"w":34},{"u":64,"w":34},{"u":67,"w":34},{"u":70,"w":34},{"u":74,"w":33},{"u":55,"w":29},{"u":59,"w":29},{"u":62,"w":29},{"u":65,"w":29},{"u":68,"w":29},{"u":72,"w":29},{"u":60,"w":23},{"u":64,"w":24},{"u":67,"w":24},{"u":70,"w":24},{"u":56,"w":18},{"u":62,"w":18},{"u":66,"w":19},{"u":72,"w":16},{"u":58,"w":10},{"u":64,"w":13},{"u":68,"w":9},{"u":74,"w":10},{"u":60,"w":5},{"u":65,"w":4},{"u":69,"w":4},{"u":76,"w":2},{"u":82,"w":4},{"u":85,"w":6}]},"mark":{"type":"point","filled":true,"size":1.5,"color":"#3a3ab8","opacity":0.8}},
{"data":{"values":[{"u":33.7,"u2":86.7,"w":17.3,"w2":88.3}]},"mark":{"type":"rect","fill":null,"stroke":"#555","strokeWidth":1},"encoding":{"x2":{"field":"u2"},"y2":{"field":"w2"}}},
{"data":{"values":[{"u":51.7,"w":79,"l":"93.5"},{"u":7.7,"w":60,"l":"VITT"},{"u":7,"w":25,"l":"NPA"}]},"mark":{"type":"text","fontSize":10.8,"color":"#222"},"encoding":{"text":{"field":"l"}}},
{"data":{"values":[{"u":-47,"w":-43},{"u":-47,"w":30}]},"mark":{"type":"line","color":"#000","strokeWidth":1.5}},
{"data":{"values":[{"u":-47,"w":-43},{"u":27,"w":-43}]},"mark":{"type":"line","color":"#000","strokeWidth":1.5}},
{"data":{"values":[{"u":-47,"w":28}]},"mark":{"type":"point","shape":"triangle-up","filled":true,"color":"#000","size":70,"opacity":1}},
{"data":{"values":[{"u":24,"w":-43}]},"mark":{"type":"point","shape":"triangle-right","filled":true,"color":"#000","size":70,"opacity":1}},
{"data":{"values":[{"u":-53.5,"w":-4,"l":"CD41-PE"}]},"mark":{"type":"text","fontSize":10.5,"angle":270,"color":"#222"},"encoding":{"text":{"field":"l"}}},
{"data":{"values":[{"u":-9,"w":-51,"l":"CD15-AF 647"}]},"mark":{"type":"text","fontSize":10.5,"color":"#222"},"encoding":{"text":{"field":"l"}}}
]},

{"encoding":{"x":{"field":"group","type":"nominal","scale":{"type":"point","domain":["Vax","VTE","ICU","VITT"],"range":[203,303],"padding":0.67},"axis":{"orient":"bottom","offset":-83,"title":null,"labelAngle":-45}},"y":{"field":"v","type":"quantitative","scale":{"domain":[0,125],"range":[912,761]},"axis":{"orient":"left","offset":-203,"title":"NPA (%)","titleX":-34,"labelFontSize":12.5,"values":[0,25,50,75,100,125]}},"color":{"field":"group","type":"nominal","scale":{"domain":["Vax","VTE","ICU","VITT"],"range":["#1f3fff","#000000","#000000","#ff2020"]},"legend":null}},
"layer":[
{"data":{"values":[{"group":"Vax","v":81,"o":0},{"group":"Vax","v":72,"o":-6},{"group":"Vax","v":73,"o":6},{"group":"Vax","v":62,"o":0},{"group":"Vax","v":45,"o":0},{"group":"Vax","v":40,"o":0},{"group":"Vax","v":28,"o":0},{"group":"VTE","v":82.5,"o":0},{"group":"VTE","v":79,"o":0},{"group":"VTE","v":74.5,"o":-6},{"group":"VTE","v":74.5,"o":0},{"group":"VTE","v":74.5,"o":6},{"group":"VTE","v":70,"o":0},{"group":"VTE","v":32,"o":0},{"group":"ICU","v":91,"o":0},{"group":"ICU","v":86,"o":-6},{"group":"ICU","v":86,"o":6},{"group":"ICU","v":76,"o":0},{"group":"ICU","v":59,"o":0},{"group":"ICU","v":46,"o":0},{"group":"VITT","v":99,"o":0},{"group":"VITT","v":91,"o":-6},{"group":"VITT","v":93,"o":6}]},"mark":{"type":"point","filled":true,"size":18,"opacity":1},"encoding":{"xOffset":{"field":"o","type":"quantitative","scale":{"domain":[-10,10],"range":[-10,10]}},"shape":{"field":"group","type":"nominal","scale":{"domain":["Vax","VTE","ICU","VITT"],"range":["circle","circle","circle","square"]},"legend":null}}},
{"data":{"values":[{"group":"Vax","v":57.5},{"group":"VTE","v":70},{"group":"ICU","v":76},{"group":"VITT","v":94}]},"mark":{"type":"tick","orient":"horizontal","size":16,"thickness":1.3},"encoding":{"color":{"value":"#222"}}},
{"data":{"values":[{"group":"Vax","v":37.5,"hi":77},{"group":"VTE","v":53,"hi":87.5},{"group":"ICU","v":59,"hi":92.5},{"group":"VITT","v":90,"hi":98}]},"mark":{"type":"errorbar","ticks":{"size":9}},"encoding":{"y2":{"field":"hi"}}},
{"data":{"values":[{"group":"VITT","v":105,"l":"**"}]},"mark":{"type":"text","fontSize":13,"baseline":"middle","dy":2},"encoding":{"text":{"field":"l"},"color":{"value":"#222"}}},
{"data":{"values":[{"group":"Vax","v":173,"l":"j"}]},"mark":{"type":"text","dx":-50,"fontSize":15,"fontWeight":"bold"},"encoding":{"text":{"field":"l"},"color":{"value":"#000"}}}
]},

{"encoding":{"x":{"field":"u","type":"quantitative","scale":{"domain":[-27,94],"range":[348,469]},"axis":{"orient":"bottom","offset":-164,"title":null,"values":[-21,0,20,53,83],"labelExpr":"datum.value<0?'-10³':datum.value==0?'0':datum.value<30?'10³':datum.value<60?'10⁴':'10⁵'","labelFontSize":5.5,"labelColor":"#444","tickSize":2,"tickWidth":0.6,"domain":false,"labelPadding":1}},"y":{"field":"w","type":"quantitative","scale":{"domain":[-37,85],"range":[831,709]},"axis":{"orient":"left","offset":-348,"title":null,"values":[-26,0,25,68],"labelExpr":"datum.value<0?'-10³':datum.value==0?'0':datum.value<40?'10³':'10⁴'","labelFontSize":5.5,"labelColor":"#444","tickSize":2,"tickWidth":0.6,"domain":false,"labelPadding":1}}},
"layer":[
{"data":{"values":[{"u":-27,"u2":94,"w":-37,"w2":85}]},"mark":{"type":"rect","fill":"#fff","stroke":"#999","strokeWidth":1},"encoding":{"x2":{"field":"u2"},"y2":{"field":"w2"}}},
{"data":{"values":[{"u":16,"w":12},{"u":18,"w":3},{"u":20,"w":9},{"u":22,"w":5},{"u":24,"w":11},{"u":26,"w":6},{"u":28,"w":9},{"u":31,"w":5},{"u":34,"w":10},{"u":38,"w":7},{"u":30,"w":14},{"u":44,"w":12},{"u":52,"w":24},{"u":62,"w":10},{"u":74,"w":14},{"u":84,"w":12},{"u":19,"w":7},{"u":21,"w":11},{"u":23,"w":3},{"u":25,"w":8},{"u":27,"w":4},{"u":29,"w":12},{"u":33,"w":7},{"u":36,"w":4},{"u":41,"w":9},{"u":47,"w":7},{"u":56,"w":8},{"u":68,"w":16}]},"mark":{"type":"point","filled":true,"size":2.2,"color":"#7080d8","opacity":0.85}},
{"data":{"values":[{"u":2,"w":3,"c":"b"},{"u":3,"w":8,"c":"b"},{"u":7,"w":11,"c":"b"},{"u":12,"w":10,"c":"b"},{"u":15,"w":6,"c":"b"},{"u":9,"w":2,"c":"b"},{"u":5,"w":1,"c":"b"},{"u":4,"w":4,"c":"g"},{"u":6,"w":7,"c":"g"},{"u":9,"w":4,"c":"g"},{"u":11,"w":8,"c":"g"},{"u":13,"w":6,"c":"g"},{"u":7,"w":5,"c":"y"},{"u":9,"w":7,"c":"y"},{"u":8,"w":6,"c":"r"}]},"mark":{"type":"point","filled":true,"opacity":0.95},"encoding":{"size":{"field":"c","type":"ordinal","scale":{"domain":["b","g","y","r"],"range":[13,16,8,4]},"legend":null},"color":{"field":"c","type":"nominal","scale":{"domain":["b","g","y","r"],"range":["#7c8ce0","#30c878","#e8d040","#f07030"]},"legend":null}}},
{"data":{"values":[{"u":17.3,"u2":17.3,"w":-37,"w2":85}]},"mark":{"type":"rule","color":"#666","strokeWidth":0.9},"encoding":{"y2":{"field":"w2"}}},
{"data":{"values":[{"u":-27,"u2":94,"w":11.7}]},"mark":{"type":"rule","color":"#666","strokeWidth":0.9},"encoding":{"x2":{"field":"u2"}}},
{"data":{"values":[{"u":45.7,"w":72,"l":"Vax"},{"u":46,"w":49,"l":"NETs, 2.2"}]},"mark":{"type":"text","fontSize":10,"color":"#222"},"encoding":{"text":{"field":"l"}}},
{"data":{"values":[{"u":-47,"w":89,"l":"k"}]},"mark":{"type":"text","fontSize":15,"fontWeight":"bold","color":"#000"},"encoding":{"text":{"field":"l"}}}
]},

{"encoding":{"x":{"field":"u","type":"quantitative","scale":{"domain":[-28,94],"range":[349,471]},"axis":{"orient":"bottom","offset":-29,"title":null,"values":[-21,0,20,53,82],"labelExpr":"datum.value<0?'-10³':datum.value==0?'0':datum.value<30?'10³':datum.value<60?'10⁴':'10⁵'","labelFontSize":5.5,"labelColor":"#444","tickSize":2,"tickWidth":0.6,"domain":false,"labelPadding":1}},"y":{"field":"w","type":"quantitative","scale":{"domain":[-37,84],"range":[966,845]},"axis":{"orient":"left","offset":-349,"title":null,"values":[-25,0,25,68],"labelExpr":"datum.value<0?'-10³':datum.value==0?'0':datum.value<40?'10³':'10⁴'","labelFontSize":5.5,"labelColor":"#444","tickSize":2,"tickWidth":0.6,"domain":false,"labelPadding":1}}},
"layer":[
{"data":{"values":[{"u":-28,"u2":94,"w":-37,"w2":84}]},"mark":{"type":"rect","fill":"#fff","stroke":"#999","strokeWidth":1},"encoding":{"x2":{"field":"u2"},"y2":{"field":"w2"}}},
{"data":{"values":[{"u":15,"w":4},{"u":16,"w":16},{"u":18,"w":10},{"u":20,"w":18},{"u":22,"w":13},{"u":24,"w":24},{"u":26,"w":17},{"u":27,"w":22},{"u":29,"w":27},{"u":30,"w":21},{"u":32,"w":28},{"u":34,"w":24},{"u":35,"w":32},{"u":37,"w":27},{"u":39,"w":35},{"u":41,"w":30},{"u":43,"w":38},{"u":45,"w":34},{"u":47,"w":42},{"u":49,"w":38},{"u":52,"w":44},{"u":56,"w":48},{"u":62,"w":38},{"u":70,"w":50},{"u":76,"w":12},{"u":60,"w":-8},{"u":17,"w":13},{"u":19,"w":15},{"u":21,"w":17},{"u":23,"w":18},{"u":25,"w":20},{"u":28,"w":25},{"u":31,"w":25},{"u":33,"w":30},{"u":36,"w":30},{"u":38,"w":31},{"u":40,"w":33},{"u":44,"w":36},{"u":46,"w":38},{"u":50,"w":41},{"u":54,"w":52},{"u":58,"w":56},{"u":35,"w":-2}]},"mark":{"type":"point","filled":true,"size":2.2,"color":"#7080d8","opacity":0.85}},
{"data":{"values":[{"u":-2,"w":0,"c":"b"},{"u":-1,"w":7,"c":"b"},{"u":2,"w":-3,"c":"b"},{"u":3,"w":10,"c":"b"},{"u":8,"w":-3,"c":"b"},{"u":7,"w":12,"c":"b"},{"u":13,"w":0,"c":"b"},{"u":14,"w":11,"c":"b"},{"u":1,"w":2,"c":"g"},{"u":3,"w":6,"c":"g"},{"u":5,"w":1,"c":"g"},{"u":7,"w":7,"c":"g"},{"u":9,"w":2,"c":"g"},{"u":11,"w":7,"c":"g"},{"u":13,"w":6,"c":"g"},{"u":4,"w":3,"c":"y"},{"u":6,"w":5,"c":"y"},{"u":8,"w":4,"c":"y"},{"u":5,"w":3,"c":"r"},{"u":7,"w":4,"c":"r"}]},"mark":{"type":"point","filled":true,"opacity":0.95},"encoding":{"size":{"field":"c","type":"ordinal","scale":{"domain":["b","g","y","r"],"range":[13,18,9,4]},"legend":null},"color":{"field":"c","type":"nominal","scale":{"domain":["b","g","y","r"],"range":["#7c8ce0","#30c878","#e8d040","#f07030"]},"legend":null}}},
{"data":{"values":[{"u":16.3,"w":-37,"w2":84}]},"mark":{"type":"rule","color":"#666","strokeWidth":0.9},"encoding":{"y2":{"field":"w2"}}},
{"data":{"values":[{"u":-28,"u2":94,"w":10.7}]},"mark":{"type":"rule","color":"#666","strokeWidth":0.9},"encoding":{"x2":{"field":"u2"}}},
{"data":{"values":[{"u":47,"w":74,"l":"VITT"},{"u":48,"w":51,"l":"NETs, 16.6"}]},"mark":{"type":"text","fontSize":10,"color":"#222"},"encoding":{"text":{"field":"l"}}},
{"data":{"values":[{"u":-47,"w":-52},{"u":-47,"w":20}]},"mark":{"type":"line","color":"#000","strokeWidth":1.5}},
{"data":{"values":[{"u":-47,"w":-52},{"u":28,"w":-52}]},"mark":{"type":"line","color":"#000","strokeWidth":1.5}},
{"data":{"values":[{"u":-47,"w":18}]},"mark":{"type":"point","shape":"triangle-up","filled":true,"color":"#000","size":70,"opacity":1}},
{"data":{"values":[{"u":26,"w":-52}]},"mark":{"type":"point","shape":"triangle-right","filled":true,"color":"#000","size":70,"opacity":1}},
{"data":{"values":[{"u":-55,"w":-15,"l":"CitH3-BV421"}]},"mark":{"type":"text","fontSize":10.5,"angle":270,"color":"#222"},"encoding":{"text":{"field":"l"}}},
{"data":{"values":[{"u":-8,"w":-60,"l":"MPO-PE"}]},"mark":{"type":"text","fontSize":10.5,"color":"#222"},"encoding":{"text":{"field":"l"}}}
]},

{"encoding":{"x":{"field":"group","type":"nominal","scale":{"type":"point","domain":["Vax","VTE","ICU","VITT"],"range":[525,625],"padding":0.67},"axis":{"orient":"bottom","offset":-87,"title":null,"labelAngle":-45}},"y":{"field":"v","type":"quantitative","scale":{"domain":[0,40],"range":[908,757]},"axis":{"orient":"left","offset":-525,"title":"NETs (%)","titleX":-31,"titleY":838,"labelFontSize":12,"values":[0,10,20,30,40],"labelFontWeight":"bold"}},"color":{"field":"group","type":"nominal","scale":{"domain":["Vax","VTE","ICU","VITT"],"range":["#1f3fff","#000000","#000000","#ff2020"]},"legend":null}},
"layer":[
{"data":{"values":[{"group":"Vax","v":3,"o":2},{"group":"Vax","v":2.2,"o":-2},{"group":"Vax","v":1.3,"o":-6},{"group":"Vax","v":1.3,"o":0},{"group":"Vax","v":0.9,"o":5},{"group":"Vax","v":0.3,"o":-5},{"group":"Vax","v":0.3,"o":-2},{"group":"Vax","v":0.3,"o":3},{"group":"VTE","v":4.7,"o":-5},{"group":"VTE","v":4.7,"o":6},{"group":"VTE","v":3.8,"o":0},{"group":"VTE","v":2.4,"o":-7},{"group":"VTE","v":2.4,"o":6},{"group":"VTE","v":0.5,"o":0},{"group":"VTE","v":0.5,"o":-5},{"group":"ICU","v":5.2,"o":-3},{"group":"ICU","v":5.2,"o":3},{"group":"ICU","v":3,"o":6},{"group":"ICU","v":1.8,"o":-6},{"group":"ICU","v":1.5,"o":0},{"group":"ICU","v":0.7,"o":-6},{"group":"ICU","v":0.7,"o":6},{"group":"VITT","v":27.2,"o":0},{"group":"VITT","v":16.6,"o":0},{"group":"VITT","v":12.9,"o":0}]},"mark":{"type":"point","filled":true,"size":17,"opacity":1},"encoding":{"xOffset":{"field":"o","type":"quantitative","scale":{"domain":[-10,10],"range":[-10,10]}},"shape":{"field":"group","type":"nominal","scale":{"domain":["Vax","VTE","ICU","VITT"],"range":["circle","circle","square","circle"]},"legend":null}}},
{"data":{"values":[{"group":"Vax","v":1.1},{"group":"VTE","v":2.7},{"group":"ICU","v":2.7},{"group":"VITT","v":19}]},"mark":{"type":"tick","orient":"horizontal","size":16,"thickness":1.2},"encoding":{"color":{"value":"#333"}}},
{"data":{"values":[{"group":"Vax","v":0.4,"hi":1.5},{"group":"VTE","v":0.5,"hi":4.5},{"group":"ICU","v":0.7,"hi":4.5},{"group":"VITT","v":11.5,"hi":26.4}]},"mark":{"type":"errorbar","ticks":{"size":9}},"encoding":{"y2":{"field":"hi"}}},
{"data":{"values":[{"group":"VITT","v":29,"l":"**"}]},"mark":{"type":"text","fontSize":13,"baseline":"middle","dy":2},"encoding":{"text":{"field":"l"},"color":{"value":"#222"}}},
{"data":{"values":[{"group":"Vax","v":53.8,"l":"l"}]},"mark":{"type":"text","dx":-57,"fontSize":15,"fontWeight":"bold"},"encoding":{"text":{"field":"l"},"color":{"value":"#000"}}}
]},

{"encoding":{"x":{"field":"group","type":"nominal","scale":{"type":"point","domain":["Vax","VTE","ICU","VITT"],"range":[676,776],"padding":0.67},"axis":{"orient":"bottom","offset":-83,"title":null,"labelAngle":-45}},"y":{"field":"v","type":"quantitative","scale":{"domain":[0,50],"range":[912,762]},"axis":{"orient":"left","offset":-676,"title":"NETs in LDG (%)","titleX":-35,"labelFontSize":11.5,"values":[0,10,20,30,40,50]}},"color":{"field":"group","type":"nominal","scale":{"domain":["Vax","VTE","ICU","VITT"],"range":["#1f3fff","#000000","#000000","#ff2020"]},"legend":null}},
"layer":[
{"data":{"values":[{"group":"Vax","v":10,"o":0},{"group":"Vax","v":1.3,"o":-3},{"group":"Vax","v":0.3,"o":-6},{"group":"Vax","v":0.3,"o":-3},{"group":"Vax","v":0.3,"o":0},{"group":"Vax","v":0.3,"o":3},{"group":"Vax","v":0.3,"o":6},{"group":"VTE","v":20.4,"o":-6},{"group":"VTE","v":21.1,"o":6},{"group":"VTE","v":4.3,"o":-6},{"group":"VTE","v":6,"o":0},{"group":"VTE","v":3.5,"o":6},{"group":"VTE","v":1.2,"o":0},{"group":"ICU","v":40.5,"o":0},{"group":"ICU","v":27.1,"o":0},{"group":"ICU","v":11.2,"o":0},{"group":"ICU","v":2.9,"o":-6},{"group":"ICU","v":2.4,"o":6},{"group":"ICU","v":0.8,"o":0},{"group":"VITT","v":27.1,"o":0},{"group":"VITT","v":16.6,"o":0},{"group":"VITT","v":12.8,"o":0}]},"mark":{"type":"point","filled":true,"size":17,"opacity":1},"encoding":{"xOffset":{"field":"o","type":"quantitative","scale":{"domain":[-10,10],"range":[-10,10]}},"shape":{"field":"group","type":"nominal","scale":{"domain":["Vax","VTE","ICU","VITT"],"range":["circle","circle","square","circle"]},"legend":null}}},
{"data":{"values":[{"group":"Vax","v":2},{"group":"VTE","v":9.5},{"group":"ICU","v":14.3},{"group":"VITT","v":19}]},"mark":{"type":"tick","orient":"horizontal","size":16,"thickness":1.2},"encoding":{"color":{"value":"#333"}}},
{"data":{"values":[{"group":"Vax","v":0.3,"hi":3.5},{"group":"VTE","v":5.8,"hi":13.2},{"group":"ICU","v":7.6,"hi":21},{"group":"VITT","v":14.7,"hi":23.3}]},"mark":{"type":"errorbar","ticks":{"size":9}},"encoding":{"y2":{"field":"hi"}}},
{"data":{"values":[{"group":"VITT","v":30.5,"l":"*"}]},"mark":{"type":"text","fontSize":13,"baseline":"middle","dy":2},"encoding":{"text":{"field":"l"},"color":{"value":"#222"}}},
{"data":{"values":[{"group":"Vax","v":69,"l":"m"}]},"mark":{"type":"text","dx":-58,"fontSize":15,"fontWeight":"bold"},"encoding":{"text":{"field":"l"},"color":{"value":"#000"}}}
]}
]}
